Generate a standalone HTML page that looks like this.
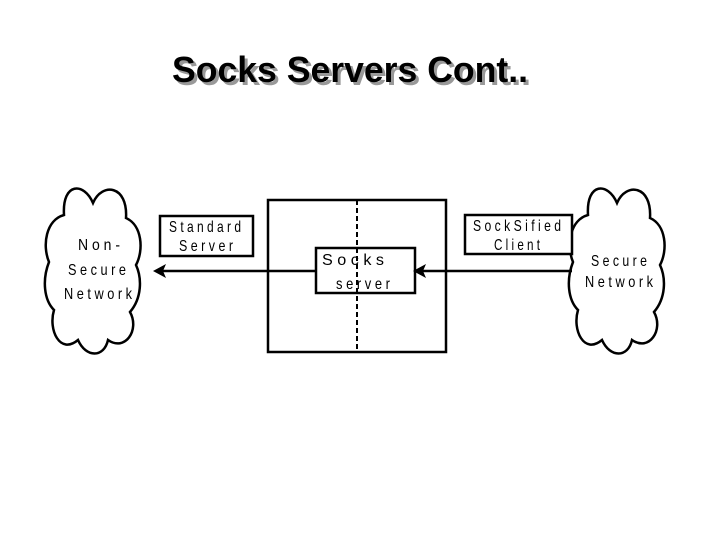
<!DOCTYPE html>
<html><head><style>
html,body{margin:0;padding:0;background:#fff;}
svg{display:block;}
</style></head><body>
<svg width="720" height="540" viewBox="0 0 720 540" xmlns="http://www.w3.org/2000/svg">
<rect width="720" height="540" fill="#fff"/>
<text x="175" y="85" textLength="356" lengthAdjust="spacingAndGlyphs" font-family="Liberation Sans, sans-serif" font-size="36" font-weight="bold" fill="#999">Socks Servers Cont..</text>
<text x="172" y="82" textLength="356" lengthAdjust="spacingAndGlyphs" font-family="Liberation Sans, sans-serif" font-size="36" font-weight="bold" fill="#000">Socks Servers Cont..</text>
<g fill="#fff" stroke="#000" stroke-width="2.5">
<path d="M93,203 C84,182 62,182 64,215 C46,220 42,245 49,262 C42,280 44,300 54,310 C48,330 60,355 78,340 C86,358 104,358 108,340 C125,352 140,330 130,312 C142,298 142,278 136,265 C144,250 142,225 126,218 C128,185 102,182 93,203 Z"/>
<path transform="translate(524,0)" d="M93,203 C84,182 62,182 64,215 C46,220 42,245 49,262 C42,280 44,300 54,310 C48,330 60,355 78,340 C86,358 104,358 108,340 C125,352 140,330 130,312 C142,298 142,278 136,265 C144,250 142,225 126,218 C128,185 102,182 93,203 Z"/>
<rect x="268" y="200" width="178" height="152"/>
<rect x="160" y="216" width="93" height="40"/>
<rect x="465" y="215" width="107" height="39"/>
<rect x="316" y="248" width="99" height="45"/>
</g>
<line x1="357" y1="200" x2="357" y2="352" stroke="#000" stroke-width="2" stroke-dasharray="5,3"/>
<g stroke="#000" stroke-width="2.5">
<line x1="316" y1="271" x2="162" y2="271"/>
<line x1="572" y1="271" x2="422" y2="271"/>
</g>
<polygon points="153,271 166,264 163,271 166,278" fill="#000"/>
<polygon points="413,271 426,264 423,271 426,278" fill="#000"/>
<g font-family="Liberation Sans, sans-serif" font-size="16" fill="#000">
<text x="78" y="250" textLength="42" lengthAdjust="spacingAndGlyphs">N o n -</text>
<text x="68" y="275" textLength="58" lengthAdjust="spacingAndGlyphs">S e c u r e</text>
<text x="64" y="299" textLength="68" lengthAdjust="spacingAndGlyphs">N e t w o r k</text>
<text x="169" y="232" textLength="72" lengthAdjust="spacingAndGlyphs">S t a n d a r d</text>
<text x="179" y="251" textLength="54" lengthAdjust="spacingAndGlyphs">S e r v e r</text>
<text x="322" y="265" textLength="62" lengthAdjust="spacingAndGlyphs">S o c k s</text>
<text x="336" y="289" textLength="54" lengthAdjust="spacingAndGlyphs">s e r v e r</text>
<text x="473" y="231" textLength="88" lengthAdjust="spacingAndGlyphs">S o c k S i f i e d</text>
<text x="494" y="250" textLength="46" lengthAdjust="spacingAndGlyphs">C l i e n t</text>
<text x="591" y="266" textLength="56" lengthAdjust="spacingAndGlyphs">S e c u r e</text>
<text x="585" y="287" textLength="68" lengthAdjust="spacingAndGlyphs">N e t w o r k</text>
</g>
</svg>
</body></html>
